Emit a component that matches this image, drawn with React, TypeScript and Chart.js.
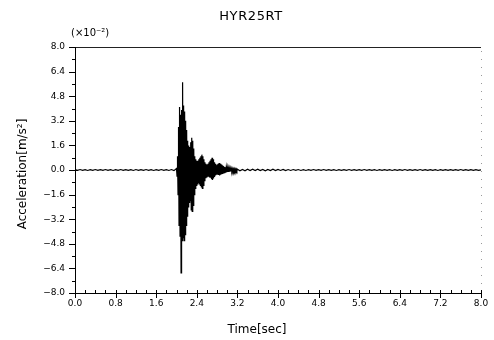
import React, { useEffect, useRef } from "react";
import { Chart, registerables } from "chart.js";

Chart.register(...registerables);

const TITLE = "HYR25RT";
const X_LABEL = "Time[sec]";
const Y_LABEL = "Acceleration[m/s²]";
const Y_MULT = "(×10⁻²)";

const xTicks = [0.0, 0.8, 1.6, 2.4, 3.2, 4.0, 4.8, 5.6, 6.4, 7.2, 8.0];
const yTicks = [-8.0, -6.4, -4.8, -3.2, -1.6, 0.0, 1.6, 3.2, 4.8, 6.4, 8.0];
const X_MINOR_STEP = 0.2;

// pre-event record, 0.00 s .. 1.95 s, every 0.05 s (x10^-2 m/s^2)
const PRE_START = 0.0;
const PRE_DT = 0.05;
const preValues = [
  0.02, -0.02, 0.03, -0.02, 0.02, -0.03, 0.02, -0.02, 0.03, -0.02,
  0.02, -0.02, 0.03, -0.02, 0.02, -0.03, 0.02, -0.02, 0.03, -0.02,
  0.02, -0.02, 0.02, -0.03, 0.03, -0.02, 0.02, -0.02, 0.03, -0.02,
  0.02, -0.03, 0.02, -0.02, 0.03, -0.02, 0.02, -0.03, 0.03, -0.04,
];

// strong motion, 2.00 s .. 3.20 s, every 0.01 s
const BURST_START = 2.0;
const BURST_DT = 0.01;
const burstValues = [
  0.1, -0.4, 0.9, -1.6, 2.8, -3.6, 4.1, -4.3, 3.6, -6.7,
  3.9, -4.6, 5.7, -4.4, 4.2, -4.6, 3.8, -4.2, 3.2, -3.6,
  2.6, -3.0, 1.9, -2.4, 1.6, -2.1, 1.5, -2.0, 1.8, -2.6,
  2.1, -2.7, 1.9, -2.3, 1.4, -1.6, 0.9, -1.2, 0.7, -1.0,
  0.6, -0.9, 0.6, -0.8, 0.7, -0.9, 0.8, -1.0, 0.9, -1.1,
  1.0, -1.2, 0.9, -1.0, 0.7, -0.7, 0.5, -0.5, 0.4, -0.45,
  0.35, -0.4, 0.4, -0.4, 0.5, -0.45, 0.6, -0.5, 0.7, -0.6,
  0.8, -0.65, 0.7, -0.55, 0.5, -0.45, 0.4, -0.35, 0.3, -0.3,
  0.35, -0.3, 0.4, -0.32, 0.45, -0.35, 0.4, -0.3, 0.35, -0.28,
  0.3, -0.25, 0.25, -0.22, 0.2, -0.2, 0.18, -0.17, 0.16, -0.15,
  0.15, -0.13, 0.12, -0.12, 0.11, -0.1, 0.1, -0.09, 0.09, -0.08,
  0.08, -0.07, 0.07, -0.06, 0.07, -0.06, 0.06, -0.05, 0.05, -0.05,
  0.05,
];

// coda, 3.25 s .. 8.00 s, every 0.05 s
const POST_START = 3.25;
const POST_DT = 0.05;
const postValues = [
  -0.05, 0.04, -0.05, 0.05, -0.04, 0.05, -0.04, 0.05, -0.04, 0.04,
  -0.05, 0.04, -0.04, 0.05, -0.04, 0.04, -0.03, 0.04, -0.04, 0.03,
  -0.03, 0.03, -0.02, 0.03, -0.03, 0.02, -0.03, 0.02, -0.02, 0.03,
  -0.02, 0.02, -0.02, 0.03, -0.02, 0.02, -0.02, 0.02, -0.03, 0.02,
  -0.02, 0.02, -0.02, 0.03, -0.02, 0.02, -0.02, 0.02, -0.02, 0.03,
  -0.02, 0.02, -0.02, 0.02, -0.03, 0.02, -0.02, 0.02, -0.02, 0.02,
  -0.03, 0.02, -0.02, 0.02, -0.02, 0.03, -0.02, 0.02, -0.02, 0.02,
  -0.02, 0.03, -0.02, 0.02, -0.02, 0.02, -0.02, 0.02, -0.03, 0.02,
  -0.02, 0.02, -0.02, 0.02, -0.02, 0.02, -0.02, 0.03, -0.02, 0.02,
  -0.02, 0.02, -0.02, 0.02, -0.02, 0.01,
];

function segment(start: number, dt: number, vals: number[]) {
  return vals.map((v, i) => ({ x: +(start + i * dt).toFixed(4), y: v }));
}

const FONT = "'DejaVu Sans', sans-serif";

const framePlugin = {
  id: "framePlugin",
  afterDraw(chart: any) {
    const { ctx, chartArea, scales } = chart;
    const { left, right, top, bottom } = chartArea;
    const xs = scales.x;
    const ys = scales.y;
    ctx.save();
    ctx.lineWidth = 1;
    ctx.strokeStyle = "#000";
    const line = (x1: number, y1: number, x2: number, y2: number) => {
      ctx.beginPath();
      ctx.moveTo(x1, y1);
      ctx.lineTo(x2, y2);
      ctx.stroke();
    };
    // left & bottom axes
    line(left + 0.5, top, left + 0.5, bottom + 1);
    line(left, bottom + 0.5, right + 1, bottom + 0.5);
    // top border
    ctx.strokeStyle = "#222";
    line(left, top + 0.5, right, top + 0.5);
    // right border (faint dotted)
    ctx.strokeStyle = "#999";
    ctx.setLineDash([1, 7]);
    line(right + 0.5, top + 4, right + 0.5, bottom);
    ctx.setLineDash([]);
    ctx.strokeStyle = "#000";
    // y ticks
    yTicks.forEach((v, i) => {
      const py = Math.round(ys.getPixelForValue(v)) + 0.5;
      line(left - 6, py, left + (v === 0 ? 3 : 1), py);
      if (i < yTicks.length - 1) {
        const mid = (yTicks[i] + yTicks[i + 1]) / 2;
        const pm = Math.round(ys.getPixelForValue(mid)) + 0.5;
        line(left - 3, pm, left + 1, pm);
      }
    });
    // x ticks
    xTicks.forEach((v, i) => {
      const px = Math.round(xs.getPixelForValue(v)) + 0.5;
      line(px, bottom - 3, px, bottom + 5);
      if (i < xTicks.length - 1) {
        for (let k = 1; k < 4; k++) {
          const pm = Math.round(xs.getPixelForValue(v + k * X_MINOR_STEP)) + 0.5;
          line(pm, bottom - 3, pm, bottom + 1);
        }
      }
    });
    // texts
    ctx.fillStyle = "#000";
    ctx.textAlign = "center";
    ctx.textBaseline = "middle";
    ctx.font = `13px ${FONT}`;
    (ctx as any).letterSpacing = "0.6px";
    ctx.fillText(TITLE, 251, 17);
    (ctx as any).letterSpacing = "0px";
    ctx.font = `10px ${FONT}`;
    ctx.textAlign = "left";
    ctx.fillText(Y_MULT, left - 4, 33);
    ctx.textAlign = "center";
    ctx.font = `12px ${FONT}`;
    ctx.fillText(X_LABEL, 257, 330);
    ctx.save();
    ctx.translate(23, 174);
    ctx.rotate(-Math.PI / 2);
    ctx.fillText(Y_LABEL, 0, 0);
    ctx.restore();
    ctx.restore();
  },
};

export default function App() {
  const ref = useRef<HTMLCanvasElement | null>(null);
  useEffect(() => {
    if (!ref.current) return;
    const points = [
      ...segment(PRE_START, PRE_DT, preValues),
      ...segment(BURST_START, BURST_DT, burstValues),
      ...segment(POST_START, POST_DT, postValues),
    ];
    const tickFont = { family: FONT, size: 9 };
    const chart = new Chart(ref.current, {
      type: "line",
      data: {
        datasets: [
          {
            data: points,
            borderColor: "#000",
            borderWidth: 1.2,
            pointRadius: 0,
            tension: 0,
            fill: false,
          },
        ],
      },
      options: {
        responsive: false,
        animation: false,
        events: [],
        layout: { padding: { top: 47, right: 13, left: 0, bottom: 0 } },
        plugins: {
          legend: { display: false },
          tooltip: { enabled: false },
          title: { display: false },
        },
        scales: {
          x: {
            type: "linear",
            min: 0,
            max: 8,
            afterBuildTicks: (s: any) => {
              s.ticks = xTicks.map((v) => ({ value: v }));
            },
            afterFit: (s: any) => {
              s.height = 47;
            },
            grid: { display: false, drawTicks: false },
            border: { display: false },
            ticks: {
              callback: (v: any) => Number(v).toFixed(1),
              font: tickFont,
              color: "#000",
              padding: 5,
              maxRotation: 0,
              autoSkip: false,
            },
          },
          y: {
            type: "linear",
            min: -8,
            max: 8,
            afterBuildTicks: (s: any) => {
              s.ticks = yTicks.map((v) => ({ value: v }));
            },
            afterFit: (s: any) => {
              s.width = 75;
            },
            grid: { display: false, drawTicks: false },
            border: { display: false },
            ticks: {
              callback: (v: any) => Number(v).toFixed(1).replace("-", "−"),
              font: tickFont,
              color: "#000",
              padding: 10,
              autoSkip: false,
            },
          },
        },
      },
      plugins: [framePlugin],
    } as any);
    return () => chart.destroy();
  }, []);
  return (
    <div style={{ position: "fixed", left: 0, top: 0, width: 494, height: 340, background: "#fff" }}>
      <canvas ref={ref} width={494} height={340} style={{ width: 494, height: 340, display: "block" }} />
    </div>
  );
}
